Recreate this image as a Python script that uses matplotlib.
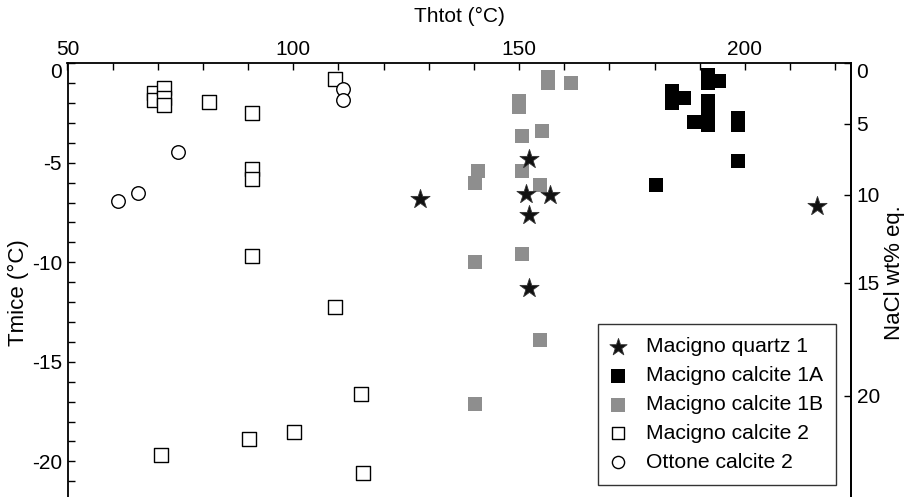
import matplotlib
matplotlib.use("Agg")
import matplotlib.pyplot as plt
import matplotlib.transforms as mtransforms
import numpy as np
from matplotlib.ticker import MultipleLocator

plt.rcParams["font.family"] = ["Liberation Sans", "DejaVu Sans"]

# Th tot (°C) / Tm ice (°C) per group
quartz1_th = [128.0, 152.1, 151.6, 156.8, 152.1, 152.1, 215.9]
quartz1_tm = [-6.8, -4.8, -6.55, -6.6, -7.6, -11.3, -7.15]

cal1a_th = [191.8, 191.8, 194.3, 183.8, 183.8, 186.6, 191.8, 191.8, 191.8,
            188.8, 198.4, 198.4, 198.4, 180.4]
cal1a_tm = [-0.6, -1.0, -0.9, -1.4, -2.0, -1.75, -1.9, -2.5, -3.1,
            -2.95, -2.75, -3.1, -4.9, -6.1]

cal1b_th = [156.4, 156.4, 161.4, 149.9, 149.9, 155.0, 150.7, 140.9, 140.3,
            150.7, 154.7, 140.2, 150.7, 154.6, 140.3]
cal1b_tm = [-0.7, -1.0, -1.0, -1.9, -2.2, -3.4, -3.65, -5.4, -6.0,
            -5.4, -6.1, -10.0, -9.6, -13.9, -17.1]

cal2_th = [69.1, 69.1, 71.4, 71.4, 71.4, 81.3, 90.8, 90.8, 90.8, 109.3,
           90.8, 109.3, 115.1, 90.1, 100.1, 70.8, 115.5]
cal2_tm = [-1.5, -1.85, -1.25, -1.75, -2.1, -1.95, -2.5, -5.3, -5.8, -0.8,
           -9.7, -12.25, -16.6, -18.9, -18.55, -19.7, -20.6]

ottone_th = [111.0, 111.0, 74.5, 65.7, 61.1]
ottone_tm = [-1.3, -1.85, -4.45, -6.5, -6.9]

salinity_ticks = [0, 5, 10, 15, 20]


def tm_to_wt(tm):
    # Bodnar (1993) freezing point depression equation
    theta = -np.asarray(tm, dtype=float)
    return 1.78 * theta - 0.0442 * theta**2 + 0.000557 * theta**3


_grid = np.linspace(-60, 80, 4001)
_wt_grid = tm_to_wt(_grid)


def wt_to_tm(wt):
    return np.interp(wt, _wt_grid[::-1], _grid[::-1])


fig = plt.figure(figsize=(9.07, 4.97), dpi=100)
ax = fig.add_axes([67.5 / 907, -24 / 497, 783.5 / 907, 457.7 / 497])

ax.scatter(cal2_th, cal2_tm, marker="s", s=95, facecolor="white",
           edgecolor="black", linewidth=1.0, label="Macigno calcite 2", zorder=3)
ax.scatter(ottone_th, ottone_tm, marker="o", s=95, facecolor="white",
           edgecolor="black", linewidth=1.0, label="Ottone calcite 2", zorder=4)
ax.scatter(cal1b_th, cal1b_tm, marker="s", s=110, color="#8e8e8e",
           linewidth=0, label="Macigno calcite 1B", zorder=3)
ax.scatter(cal1a_th, cal1a_tm, marker="s", s=110, color="black",
           linewidth=0, label="Macigno calcite 1A", zorder=3)
ax.scatter(quartz1_th, quartz1_tm, marker="*", s=210, facecolor="#111111",
           edgecolor="#333333", linewidth=0.6, label="Macigno quartz 1", zorder=5)

ax.set_xlim(50, 223.5)
ax.set_ylim(-23, 0)

ax.xaxis.tick_top()
ax.xaxis.set_label_position("top")
ax.xaxis.set_major_locator(MultipleLocator(50))
ax.xaxis.set_minor_locator(MultipleLocator(10))
ax.yaxis.set_major_locator(MultipleLocator(5))
ax.yaxis.set_minor_locator(MultipleLocator(1))
ax.tick_params(which="both", direction="in", length=5, width=1.0,
               labelsize=15, top=True, bottom=False, right=False)
ax.tick_params(axis="x", pad=3)
ax.tick_params(axis="y", pad=4)
for side in ("left", "top", "right"):
    ax.spines[side].set_linewidth(1.3)
ax.spines["bottom"].set_visible(False)
ax.set_yticks([0, -5, -10, -15, -20])
ax.set_yticklabels(["0", "-5", "-10", "-15", "-20"])

ax.set_xlabel("Thtot (°C)", fontsize=15, labelpad=13)
ax.set_ylabel("Tmice (°C)", fontsize=16, labelpad=2)

sec = ax.secondary_yaxis("right", functions=(tm_to_wt, wt_to_tm))
sec.set_yticks(salinity_ticks)
sec.tick_params(direction="in", length=5, width=1.0, labelsize=15, pad=4)
sec.spines["right"].set_linewidth(1.3)
sec.set_ylabel("NaCl wt% eq.", fontsize=16)
sec.yaxis.set_label_coords((884 - 67.5) / 783.5, (521 - 273) / 457.7,
                           transform=ax.transAxes)

# zero labels sit a little below the top spine in the original
shift = mtransforms.ScaledTranslation(0, -5 / 72, fig.dpi_scale_trans)
for lab in ax.get_yticklabels():
    if lab.get_text() == "0":
        lab.set_transform(lab.get_transform() + shift)
fig.canvas.draw()
for lab in sec.get_yticklabels():
    if lab.get_text() == "0":
        lab.set_transform(lab.get_transform() + shift)

handles, labels = ax.get_legend_handles_labels()
order = [4, 3, 2, 0, 1]
leg = ax.legend([handles[i] for i in order], [labels[i] for i in order],
                loc="lower right", bbox_to_anchor=(836 / 907, 1 - 485 / 497),
                bbox_transform=fig.transFigure, borderaxespad=0,
                fontsize=15.2, frameon=True, fancybox=False, edgecolor="#333333",
                framealpha=1, handletextpad=1.0, labelspacing=0.47,
                borderpad=0.62, markerscale=0.9, handlelength=0.65)
leg.get_frame().set_linewidth(1.0)

fig.savefig("out.png", dpi=100)
